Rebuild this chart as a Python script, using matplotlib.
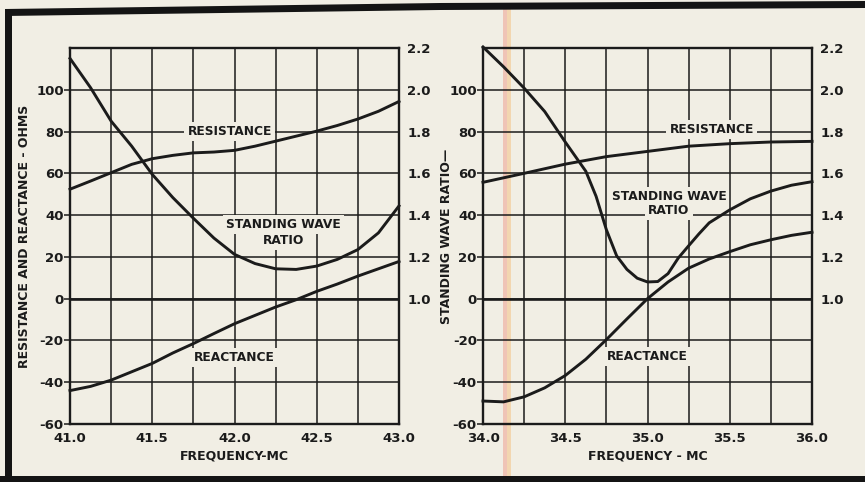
import matplotlib.pyplot as plt
import numpy as np
from matplotlib.patches import Rectangle, Polygon
from matplotlib.ticker import MultipleLocator, FormatStrFormatter

# --- 41-43 Mc panel ---
f1 = [41.0, 41.125, 41.25, 41.375, 41.5, 41.625, 41.75, 41.875, 42.0,
      42.125, 42.25, 42.375, 42.5, 42.625, 42.75, 42.875, 43.0]
res1 = [52.4, 56.3, 60.3, 64.3, 67.0, 68.6, 69.8, 70.2, 71.0,
        73.0, 75.4, 77.8, 80.2, 82.9, 86.0, 89.7, 94.4]
reac1 = [-44.0, -42.0, -39.0, -35.0, -31.0, -26.0, -21.5, -16.7, -12.0,
         -8.0, -4.0, -0.5, 3.5, 7.0, 10.8, 14.3, 17.8]
swr1 = [2.15, 2.01, 1.85, 1.73, 1.595, 1.484, 1.385, 1.29, 1.212,
        1.168, 1.143, 1.14, 1.156, 1.188, 1.235, 1.315, 1.444]

# --- 34-36 Mc panel ---
f2 = [34.0, 34.25, 34.5, 34.75, 35.0, 35.25, 35.5, 35.75, 36.0]
res2 = [55.7, 60.0, 64.4, 68.0, 70.5, 73.0, 74.2, 75.0, 75.3]
f2r = [34.0, 34.125, 34.25, 34.375, 34.5, 34.625, 34.75, 34.875, 35.0,
       35.125, 35.25, 35.375, 35.5, 35.625, 35.75, 35.875, 36.0]
reac2 = [-49.0, -49.4, -47.0, -42.7, -36.8, -29.0, -19.6, -9.7, 0.0,
         8.0, 14.6, 19.0, 22.5, 25.8, 28.2, 30.3, 31.8]
f2s = [34.0, 34.125, 34.25, 34.375, 34.5, 34.5625, 34.625, 34.6875, 34.75,
       34.8125, 34.875, 34.9375, 35.0, 35.0625, 35.125, 35.1875, 35.25,
       35.3125, 35.375, 35.5, 35.625, 35.75, 35.875, 36.0]
swr2 = [2.205, 2.11, 2.008, 1.896, 1.75, 1.68, 1.61, 1.49, 1.33,
        1.205, 1.14, 1.098, 1.08, 1.082, 1.12, 1.195, 1.253,
        1.31, 1.363, 1.425, 1.478, 1.515, 1.543, 1.56]

paper = '#f1eee4'
ink = '#1b1b1b'
W, H = 865, 482

plt.rcParams['font.family'] = 'DejaVu Sans'
plt.rcParams['font.weight'] = 'bold'
plt.rcParams['axes.unicode_minus'] = False

fig = plt.figure(figsize=(W / 100, H / 100), dpi=100, facecolor=paper)

def fx(x):
    return x / W

def fy(y):
    return 1 - y / H

def panel(left_px, x0, x1, xlabel, curves, swr_f, swr, labels):
    ax = fig.add_axes([fx(left_px), fy(424), 329 / W, 376 / H])
    ax.set_facecolor('none')
    ax.set_xlim(x0, x1)
    ax.set_ylim(-60, 120)
    ax.set_xticks(np.arange(x0, x1 + 0.01, 0.5))
    ax.xaxis.set_major_formatter(FormatStrFormatter('%.1f'))
    ax.xaxis.set_minor_locator(MultipleLocator(0.25))
    ax.set_yticks(range(-60, 101, 20))
    ax.yaxis.set_minor_locator(MultipleLocator(20))
    ax.grid(which='both', color=ink, lw=1.1)
    ax.set_axisbelow(True)
    ax.axhline(0, color=ink, lw=1.9, zorder=1)
    for s in ax.spines.values():
        s.set_linewidth(1.7)
        s.set_color(ink)
    ax.tick_params(axis='x', which='both', length=0, pad=6, labelsize=9.5, colors=ink)
    ax.tick_params(axis='y', which='major', length=4, width=1.1, pad=0.5, labelsize=9.5, colors=ink)
    ax.tick_params(axis='y', which='minor', length=0)
    ax.set_xlabel(xlabel, fontsize=9, fontweight='bold', labelpad=3, color=ink)
    for xs, ys in curves:
        ax.plot(xs, ys, color=ink, lw=2.1, solid_joinstyle='round', clip_on=False, zorder=4)
    for (tx, ty, txt) in labels:
        ax.text(tx, ty, txt, ha='center', va='center', fontsize=8.8, fontweight='bold',
                color=ink, zorder=3,
                bbox=dict(boxstyle='square,pad=0.25', fc=paper, ec='none'))

    ax2 = ax.twinx()
    ax2.set_ylim(0.4, 2.2)
    ax2.set_yticks(np.arange(1.0, 2.21, 0.2))
    ax2.yaxis.set_major_formatter(FormatStrFormatter('%.1f'))
    ax2.tick_params(axis='y', length=0, pad=6, labelsize=9.5, colors=ink)
    for s in ax2.spines.values():
        s.set_visible(False)
    ax2.plot(swr_f, swr, color=ink, lw=2.1, solid_joinstyle='round', clip_on=False, zorder=4)
    return ax, ax2

axA, axA2 = panel(70, 41.0, 43.0, 'FREQUENCY-MC',
                  [(f1, res1), (f1, reac1)], f1, swr1,
                  [(41.97, 80, 'RESISTANCE'),
                   (42.3, 35.3, 'STANDING WAVE'),
                   (42.3, 28, 'RATIO'),
                   (42.0, -28, 'REACTANCE')])
axA.set_ylabel('RESISTANCE AND REACTANCE - OHMS', fontsize=9, fontweight='bold', color=ink)
axA.yaxis.set_label_coords(-0.118, 0.5)
axA2.set_ylabel('STANDING WAVE RATIO\u2014', fontsize=9, fontweight='bold', color=ink,
                rotation=90)
axA2.yaxis.set_label_coords(1.125, 0.5)

axB, axB2 = panel(483, 34.0, 36.0, 'FREQUENCY - MC',
                  [(f2, res2), (f2r, reac2)], f2s, swr2,
                  [(35.39, 81, 'RESISTANCE'),
                   (35.13, 49, 'STANDING WAVE'),
                   (35.13, 42.2, 'RATIO'),
                   (35.0, -27.5, 'REACTANCE')])

# scan frame: black border bands and the tinted stripe
fig.add_artist(Polygon([(fx(5), fy(9)), (fx(440), fy(3)), (fx(865), fy(1)),
                        (fx(865), fy(8)), (fx(440), fy(10)), (fx(5), fy(16))],
                       closed=True, transform=fig.transFigure, fc='#141414', ec='none'))
fig.add_artist(Rectangle((fx(5), fy(482)), 7 / W, 470 / H, transform=fig.transFigure,
                         fc='#141414', ec='none'))
fig.add_artist(Rectangle((0, 0), 1, 6 / H, transform=fig.transFigure,
                         fc='#141414', ec='none'))
fig.add_artist(Rectangle((fx(503), fy(476)), 4 / W, 470 / H, transform=fig.transFigure,
                         fc='#efc4b6', ec='none', zorder=-1))
fig.add_artist(Rectangle((fx(507), fy(476)), 4 / W, 470 / H, transform=fig.transFigure,
                         fc='#f2d6b0', ec='none', zorder=-1))

plt.savefig('out.png', dpi=100, facecolor=paper)
